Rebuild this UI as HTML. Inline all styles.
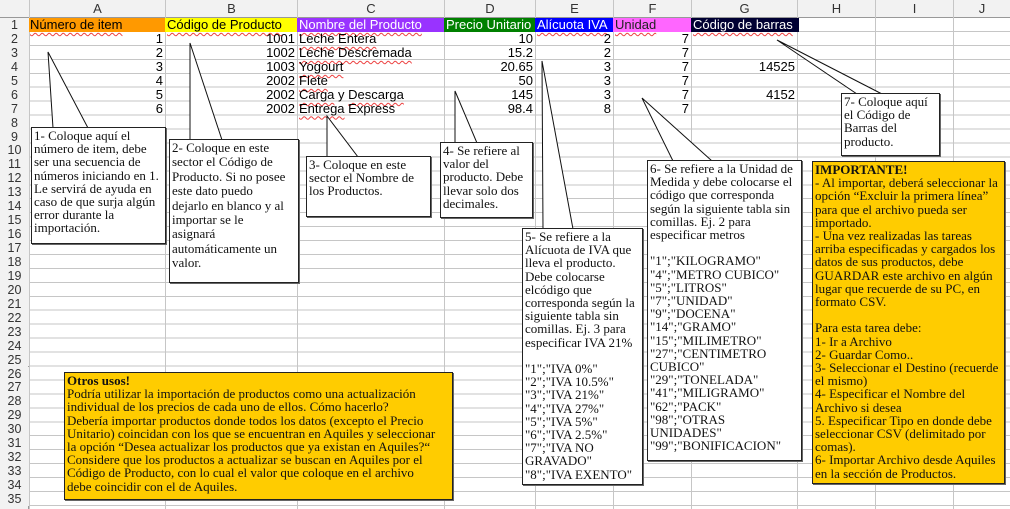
<!DOCTYPE html>
<html><head><meta charset="utf-8"><style>
body{margin:0;width:1010px;height:509px;overflow:hidden;background:#fff;position:relative;font-family:"Liberation Sans",sans-serif}
.grid{position:absolute;left:29px;top:18px;width:981px;height:491px;background:repeating-linear-gradient(to bottom,transparent 0,transparent 12.94px,#c6c6c6 12.94px,#c6c6c6 13.94px)}
.v{position:absolute;top:0;height:509px;width:1px;background:#c6c6c6}
.ch{position:absolute;top:0;height:18px;background:#f2f2f2;border-bottom:1px solid #999;font-size:13px;color:#333;text-align:center;line-height:18px;box-sizing:border-box}
.rh{position:absolute;left:0;width:29px;height:13.94px;background:#f2f2f2;font-size:12.5px;color:#333;text-align:center;line-height:14px}
.rhc{position:absolute;left:0;top:18px;width:29px;height:491px;background:#f2f2f2;border-right:1px solid #999;box-sizing:border-box}
.c{position:absolute;height:14px;font-size:13px;line-height:14px;white-space:nowrap;color:#000}
.r{text-align:right}
.h{text-decoration:underline wavy rgba(230,0,0,.75);text-decoration-thickness:1px;text-underline-offset:3px}
.box{position:absolute;background:#fff;border:1px solid #222;box-shadow:1px 1px 0 #666;font-family:"Liberation Serif",serif;font-size:13px;line-height:13.2px;padding:1px 2px;box-sizing:border-box;color:#111;white-space:pre-line}
.or{background:#ffcc00}
</style></head><body>
<div class="grid"></div>
<div class="rhc"></div>
<div class="v" style="left:29px"></div><div class="v" style="left:165px"></div><div class="v" style="left:297px"></div><div class="v" style="left:444px"></div><div class="v" style="left:535px"></div><div class="v" style="left:613px"></div><div class="v" style="left:691px"></div><div class="v" style="left:797px"></div><div class="v" style="left:875px"></div><div class="v" style="left:953px"></div>
<div class="ch" style="left:0;width:29px"></div>
<div class="ch" style="left:30px;width:135px">A</div><div class="ch" style="left:166px;width:131px">B</div><div class="ch" style="left:298px;width:146px">C</div><div class="ch" style="left:445px;width:90px">D</div><div class="ch" style="left:536px;width:77px">E</div><div class="ch" style="left:614px;width:77px">F</div><div class="ch" style="left:692px;width:105px">G</div><div class="ch" style="left:798px;width:77px">H</div><div class="ch" style="left:876px;width:77px">I</div><div class="ch" style="left:954px;width:56px">J</div>
<div class="rh" style="top:18px">1</div><div class="rh" style="top:31.94px">2</div><div class="rh" style="top:45.88px">3</div><div class="rh" style="top:59.82px">4</div><div class="rh" style="top:73.76px">5</div><div class="rh" style="top:87.7px">6</div><div class="rh" style="top:101.64px">7</div><div class="rh" style="top:115.58px">8</div><div class="rh" style="top:129.52px">9</div><div class="rh" style="top:143.46px">10</div><div class="rh" style="top:157.4px">11</div><div class="rh" style="top:171.34px">12</div><div class="rh" style="top:185.28px">13</div><div class="rh" style="top:199.22px">14</div><div class="rh" style="top:213.16px">15</div><div class="rh" style="top:227.1px">16</div><div class="rh" style="top:241.04px">17</div><div class="rh" style="top:254.98px">18</div><div class="rh" style="top:268.92px">19</div><div class="rh" style="top:282.86px">20</div><div class="rh" style="top:296.8px">21</div><div class="rh" style="top:310.74px">22</div><div class="rh" style="top:324.68px">23</div><div class="rh" style="top:338.62px">24</div><div class="rh" style="top:352.56px">25</div><div class="rh" style="top:366.5px">26</div><div class="rh" style="top:380.44px">27</div><div class="rh" style="top:394.38px">28</div><div class="rh" style="top:408.32px">29</div><div class="rh" style="top:422.26px">30</div><div class="rh" style="top:436.2px">31</div><div class="rh" style="top:450.14px">32</div><div class="rh" style="top:464.08px">33</div><div class="rh" style="top:478.02px">34</div><div class="rh" style="top:491.96px">35</div>

<div class="c" style="left:29px;top:18px;width:136px;background:#ff9900;padding-left:1px"><span class="h">Número de item</span></div>
<div class="c" style="left:165px;top:18px;width:132px;background:#ffff00;padding-left:2px"><span class="h">Código de Producto</span></div>
<div class="c" style="left:297px;top:18px;width:147px;background:#9933ff;color:#fff;padding-left:2px"><span class="h">Nombre del Producto</span></div>
<div class="c" style="left:444px;top:18px;width:91px;background:#008000;color:#fff;padding-left:2px;overflow:hidden"><span class="h">Precio Unitario</span></div>
<div class="c" style="left:535px;top:18px;width:78px;background:#0000ff;color:#fff;padding-left:2px"><span class="h">Alícuota IVA</span></div>
<div class="c" style="left:613px;top:18px;width:78px;background:#ff66ff;color:#222;padding-left:2px"><span class="h">Unidad</span></div>
<div class="c" style="left:691px;top:18px;width:106px;background:#000033;color:#fff;padding-left:2px"><span class="h">Código de barras</span></div>

<div class="c r" style="left:29px;width:134px;top:32px;line-height:13.94px;white-space:pre">1
2
3
4
5
6</div>
<div class="c r" style="left:165px;width:130px;top:32px;line-height:13.94px;white-space:pre">1001
1002
1003
2002
2002
2002</div>
<div class="c" style="left:299px;top:32px;line-height:13.94px;white-space:pre"><span class="h">Leche Entera</span>
<span class="h">Leche Descremada</span>
<span class="h">Yogourt</span>
<span class="h">Flete</span>
<span class="h">Carga</span> y <span class="h">Descarga</span>
<span class="h">Entrega</span> Express</div>
<div class="c r" style="left:444px;width:89px;top:32px;line-height:13.94px;white-space:pre">10
15.2
20.65
50
145
98.4</div>
<div class="c r" style="left:535px;width:76px;top:32px;line-height:13.94px;white-space:pre">2
2
3
3
3
8</div>
<div class="c r" style="left:613px;width:76px;top:32px;line-height:13.94px;white-space:pre">7
7
7
7
7
7</div>
<div class="c r" style="left:691px;width:104px;top:60px">14525</div>
<div class="c r" style="left:691px;width:104px;top:88px">4152</div>

<svg style="position:absolute;left:0;top:0" width="1010" height="509">
<g fill="#fff" stroke="#111" stroke-width="1">
<polygon points="48,52 53,128 88,128"/>
<polygon points="190,43 190,140 222,140"/>
<polygon points="327,116 327,157 358,157"/>
<polygon points="455,91 455,143 477,143"/>
<polygon points="542,61 543,229 573,229"/>
<polygon points="642,98 673,161 712,161"/>
<polygon points="777,40 857,94 882,94"/>
</g></svg>

<div class="box" style="left:31px;top:127px;width:135px;height:117px">1- Coloque aquí el
número de item, debe
ser una secuencia de
números iniciando en 1.
Le servirá de ayuda en
caso de que surja algún
error durante la
importación.</div>
<div class="box" style="left:169px;top:139px;width:130px;height:144px;line-height:14.4px">2- Coloque en este
sector el Código de
Producto. Si no posee
este dato puedo
dejarlo en blanco y al
importar se le
asignará
automáticamente un
valor.</div>
<div class="box" style="left:306px;top:156px;width:125px;height:61px">3- Coloque en este
sector el Nombre de
los Productos.</div>
<div class="box" style="left:440px;top:142px;width:93px;height:76px">4- Se refiere al
valor del
producto. Debe
llevar solo dos
decimales.</div>
<div class="box" style="left:522px;top:228px;width:121px;height:257px">5- Se refiere a la
Alícuota de IVA que
lleva el producto.
Debe colocarse
elcódigo que
corresponda según la
siguiente tabla sin
comillas. Ej. 3 para
especificar IVA 21%

"1";"IVA 0%"
"2";"IVA 10.5%"
"3";"IVA 21%"
"4";"IVA 27%"
"5";"IVA 5%"
"6";"IVA 2.5%"
"7";"IVA NO
GRAVADO"
"8";"IVA EXENTO"</div>
<div class="box" style="left:647px;top:160px;width:155px;height:301px">6- Se refiere a la Unidad de
Medida y debe colocarse el
código que corresponda
según la siguiente tabla sin
comillas. Ej. 2 para
especificar metros

"1";"KILOGRAMO"
"4";"METRO CUBICO"
"5";"LITROS"
"7";"UNIDAD"
"9";"DOCENA"
"14";"GRAMO"
"15";"MILIMETRO"
"27";"CENTIMETRO
CUBICO"
"29";"TONELADA"
"41";"MILIGRAMO"
"62";"PACK"
"98";"OTRAS
UNIDADES"
"99";"BONIFICACION"</div>
<div class="box" style="left:841px;top:93px;width:99px;height:63px">7- Coloque aquí
el Código de
Barras del
producto.</div>
<div class="box or" style="left:812px;top:161px;width:193px;height:323px"><b>IMPORTANTE!</b>
- Al importar, deberá seleccionar la
opción “Excluir la primera línea”
para que el archivo pueda ser
importado.
- Una vez realizadas las tareas
arriba especificadas y cargados los
datos de sus productos, debe
GUARDAR este archivo en algún
lugar que recuerde de su PC, en
formato CSV.

Para esta tarea debe:
1- Ir a Archivo
2- Guardar Como..
3- Seleccionar el Destino (recuerde
el mismo)
4- Especificar el Nombre del
Archivo si desea
5. Especificar Tipo en donde debe
seleccionar CSV (delimitado por
comas).
6- Importar Archivo desde Aquiles
en la sección de Productos.</div>
<div class="box or" style="left:64px;top:372px;width:389px;height:128px"><b>Otros usos!</b>
Podría utilizar la importación de productos como una actualización
individual de los precios de cada uno de ellos. Cómo hacerlo?
Debería importar productos donde todos los datos (excepto el Precio
Unitario) coincidan con los que se encuentran en Aquiles y seleccionar
la opción “Desea actualizar los productos que ya existan en Aquiles?“
Considere que los productos a actualizar se buscan en Aquiles por el
Código de Producto, con lo cual el valor que coloque en el archivo
debe coincidir con el de Aquiles.</div>
</body></html>
